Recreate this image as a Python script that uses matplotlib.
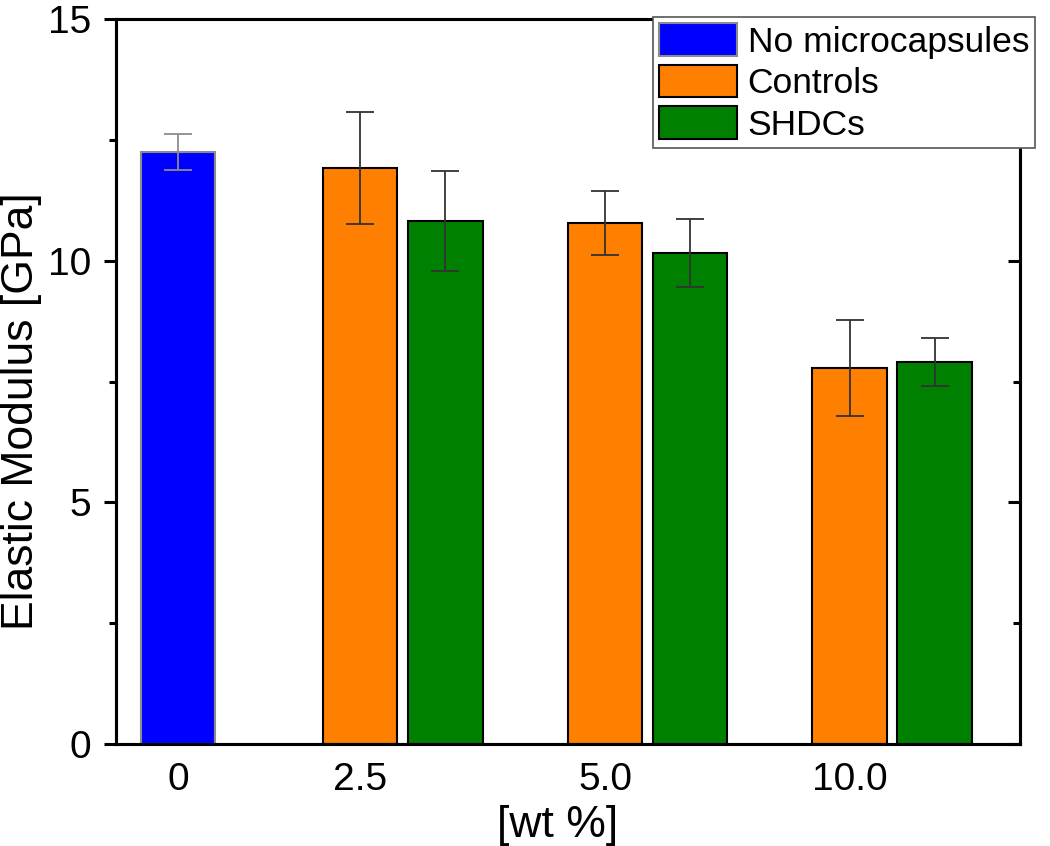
import matplotlib
matplotlib.use('Agg')
from matplotlib import pyplot as plt

plt.rcParams['font.family'] = ['Liberation Sans', 'DejaVu Sans']

# data
groups = ['0', '2.5', '5.0', '10.0']
plain_val = [12.25]
plain_err = [0.37]
ctrl_val = [11.92, 10.78, 7.78]
ctrl_err = [1.16, 0.67, 1.0]
shdc_val = [10.82, 10.16, 7.90]
shdc_err = [1.04, 0.70, 0.50]

# layout (x positions in group units)
pos_plain = [0.257]
pos_ctrl = [1, 2, 3]
pos_shdc = [p + 0.347 for p in pos_ctrl]
w = 0.306

fig = plt.figure(figsize=(10.5, 8.46), dpi=100)
ax = fig.add_axes([0.1105, 0.1206, 0.8609, 0.8569])

ax.bar(pos_plain, plain_val, w, color='#0000FF', edgecolor='#8c8c8c', linewidth=1.5,
       yerr=plain_err, capsize=10, error_kw=dict(ecolor='#8c8c8c', elinewidth=1.3, capthick=1.3),
       label='No microcapsules', zorder=2)
ax.bar(pos_ctrl, ctrl_val, w, color='#FF8000', edgecolor='black', linewidth=1.5,
       yerr=ctrl_err, capsize=10, error_kw=dict(ecolor='#333333', elinewidth=1.3, capthick=1.3),
       label='Controls', zorder=2)
ax.bar(pos_shdc, shdc_val, w, color='#008000', edgecolor='black', linewidth=1.5,
       yerr=shdc_err, capsize=10, error_kw=dict(ecolor='#333333', elinewidth=1.3, capthick=1.3),
       label='SHDCs', zorder=2)

ax.set_xlim(0.004, 3.694)
ax.set_ylim(0, 15)
ax.set_xticks(pos_plain + pos_ctrl)
ax.set_xticklabels(groups)
ax.set_yticks([0, 5, 10, 15])
ax.set_yticks([2.5, 7.5, 12.5], minor=True)

ax.tick_params(axis='x', length=0, pad=13, labelsize=28)
ax.tick_params(axis='y', which='major', direction='out', length=9, width=2.2, pad=9, labelsize=28)
ax.tick_params(axis='y', which='minor', direction='out', length=5, width=2.2)

for s in ax.spines.values():
    s.set_linewidth(2.2)

# right side ticks point inwards
ax2 = ax.twinx()
ax2.set_ylim(0, 15)
ax2.set_yticks([0, 5, 10, 15])
ax2.set_yticks([2.5, 7.5, 12.5], minor=True)
ax2.tick_params(axis='y', which='major', direction='in', length=9, width=2.2, labelright=False)
ax2.tick_params(axis='y', which='minor', direction='in', length=5, width=2.2)
for s in ax2.spines.values():
    s.set_linewidth(2.2)

ax.set_ylabel('Elastic Modulus [GPa]', fontsize=32)
ax.yaxis.set_label_coords(-0.082, 0.459)
ax.set_xlabel('[wt %]', fontsize=32)
ax.xaxis.set_label_coords(0.488, -0.084)

h, l = ax.get_legend_handles_labels()
leg = fig.legend(h, l, loc='upper left', bbox_to_anchor=(653 / 1050, 1 - 17 / 846),
                 fontsize=25.5, frameon=True, fancybox=False, framealpha=1,
                 handlelength=2.2, handleheight=1.05, handletextpad=0.3,
                 labelspacing=0.17, borderpad=0.17, borderaxespad=0)
leg.get_frame().set_edgecolor('#555555')
leg.get_frame().set_linewidth(1.2)

plt.savefig('out.png', dpi=100)
